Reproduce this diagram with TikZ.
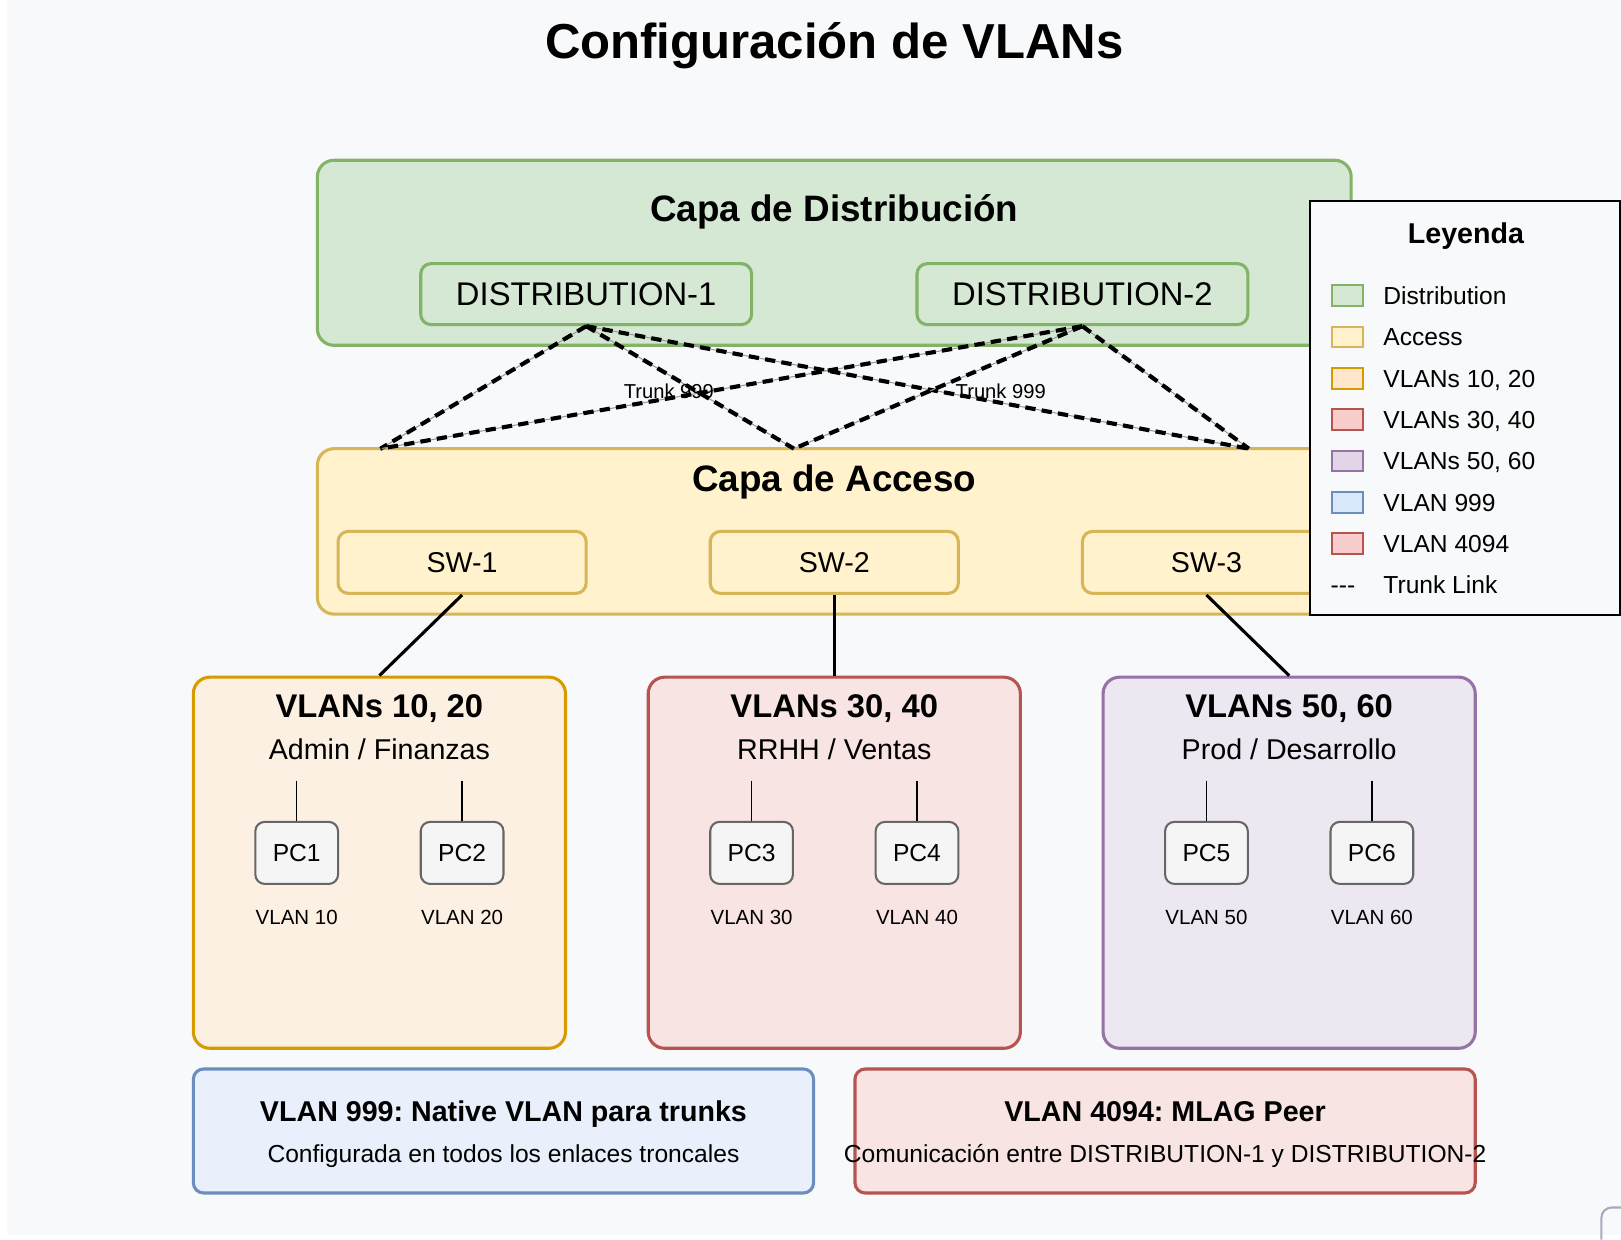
\documentclass[tikz,border=0pt]{standalone}
\usepackage{fontspec}
\setmainfont{Liberation Sans}
\frenchspacing
\newcommand\fsz[1]{\fontsize{#1}{#1}\selectfont}
\definecolor{bgc}{HTML}{F8F9FA}
\definecolor{dgf}{HTML}{D5E8D4}\definecolor{dgs}{HTML}{82B366}
\definecolor{acf}{HTML}{FFF2CC}\definecolor{acs}{HTML}{D6B656}
\definecolor{orf}{HTML}{FFE6CC}\definecolor{ors}{HTML}{D79B00}\definecolor{orl}{HTML}{FCF0E3}
\definecolor{rdf}{HTML}{F8CECC}\definecolor{rds}{HTML}{B85450}\definecolor{rdl}{HTML}{F8E4E3}
\definecolor{puf}{HTML}{E1D5E7}\definecolor{pus}{HTML}{9673A6}\definecolor{pul}{HTML}{ECE7F0}
\definecolor{blf}{HTML}{DAE8FC}\definecolor{bls}{HTML}{6C8EBF}\definecolor{bll}{HTML}{E9F0FB}
\definecolor{pcf}{HTML}{F5F5F5}\definecolor{pcs}{HTML}{666666}
\definecolor{crn}{HTML}{A3ACBD}
\begin{document}
\begin{tikzpicture}[x=1pt,y=-1pt,
  grp/.style={draw, line width=3pt, rounded corners=16pt, inner sep=0pt},
  devbox/.style={draw, line width=3pt, rounded corners=10pt, inner sep=0pt, minimum height=59pt},
  pcbox/.style={draw=pcs, fill=pcf, line width=2pt, rounded corners=9pt, inner sep=0pt,
    minimum width=80pt, minimum height=60pt, font=\fsz{23.8}},
  txt/.style={anchor=base, inner sep=0pt},
  big/.style={txt, font=\fsz{35.6}\bfseries},
  gtitle/.style={txt, font=\fsz{31.7}\bfseries},
  gsub/.style={txt, font=\fsz{27.7}},
  small/.style={txt, font=\fsz{19.8}},
  trunk/.style={line width=4pt, dash pattern=on 10pt off 6pt},
  trunkbase/.style={line width=1pt, draw=gray!80},
  solidlink/.style={line width=3pt},
  pclink/.style={line width=1.5pt},
  swatch/.style={draw, line width=2pt, minimum width=30pt, minimum height=20pt, inner sep=0pt},
  legtxt/.style={anchor=base west, inner sep=0pt, font=\fsz{23.8}}
]
\useasboundingbox (0,0) rectangle (1568,1199);
\fill[white] (0,0) rectangle (1568,1199);
\fill[bgc] (7,0) rectangle (1568,1195);

% title
\node[txt, font=\fsz{47.5}\bfseries] (title) at (807,57) {Configuración de VLANs};

% distribution layer
\node[grp, draw=dgs, fill=dgf, minimum width=1000pt, minimum height=179pt] (dist) at (807,244.5) {};
\node[big] (tdist) at (807,214.7) {Capa de Distribución};
\node[devbox, draw=dgs, fill=dgf, minimum width=320pt, font=\fsz{31.7}] (d1) at (567,284.5) {DISTRIBUTION-1};
\node[devbox, draw=dgs, fill=dgf, minimum width=320pt, font=\fsz{31.7}] (d2) at (1047,284.5) {DISTRIBUTION-2};

% access layer
\node[grp, draw=acs, fill=acf, minimum width=1000pt, minimum height=160pt] (acc) at (807,514) {};
\node[big] (tacc) at (807,475.7) {Capa de Acceso};
\node[devbox, draw=acs, fill=acf, minimum width=240pt, minimum height=60pt, font=\fsz{27.7}] (sw1) at (447,544) {SW-1};
\node[devbox, draw=acs, fill=acf, minimum width=240pt, minimum height=60pt, font=\fsz{27.7}] (sw2) at (807,544) {SW-2};
\node[devbox, draw=acs, fill=acf, minimum width=240pt, minimum height=60pt, font=\fsz{27.7}] (sw3) at (1167,544) {SW-3};

% trunk links
\coordinate (a1) at (368,434);
\coordinate (a2) at (768,434);
\coordinate (a3) at (1208,434);
\foreach \d in {d1,d2}{
  \foreach \a in {a1,a2,a3}{
    \draw[trunkbase] (\d.south) -- (\a);
    \draw[trunk] (\d.south) -- (\a);
  }
}
\node[small, font=\fsz{19.5}] (t1) at (647,385) {Trunk 999};
\node[small, font=\fsz{19.5}] (t2) at (968,385) {Trunk 999};

% VLAN groups
\node[grp, draw=ors, fill=orl, minimum width=360pt, minimum height=359pt] (v1) at (367,834.5) {};
\node[grp, draw=rds, fill=rdl, minimum width=360pt, minimum height=359pt] (v2) at (807,834.5) {};
\node[grp, draw=pus, fill=pul, minimum width=360pt, minimum height=359pt] (v3) at (1247,834.5) {};
\draw[solidlink] (sw1.south) -- (v1.north);
\draw[solidlink] (sw2.south) -- (v2.north);
\draw[solidlink] (sw3.south) -- (v3.north);

\node[gtitle] (g1t) at (367,694.3) {VLANs 10, 20};
\node[gsub] (g1s) at (367,735) {Admin / Finanzas};
\node[gtitle] (g2t) at (807,694.3) {VLANs 30, 40};
\node[gsub] (g2s) at (807,735) {RRHH / Ventas};
\node[gtitle] (g3t) at (1247,694.3) {VLANs 50, 60};
\node[gsub] (g3s) at (1247,735) {Prod / Desarrollo};

\foreach \n/\x/\v in {1/287/10, 2/447/20, 3/727/30, 4/887/40, 5/1167/50, 6/1327/60}{
  \node[pcbox] (pc\n) at (\x,825) {PC\n};
  \coordinate (pt\n) at (\x,755);
  \draw[pclink] (pt\n) -- (pc\n.north);
  \node[small] (vl\n) at (\x,894) {VLAN \v};
}

% bottom notes
\node[grp, rounded corners=10pt, draw=bls, fill=bll, minimum width=600pt, minimum height=120pt] (b1) at (487,1094) {};
\node[txt, font=\fsz{27.7}\bfseries] (b1t) at (487,1085) {VLAN 999: Native VLAN para trunks};
\node[txt, font=\fsz{23.8}] (b1s) at (487,1124.5) {Configurada en todos los enlaces troncales};
\node[grp, rounded corners=10pt, draw=rds, fill=rdl, minimum width=600pt, minimum height=120pt] (b2) at (1127,1094) {};
\node[txt, font=\fsz{27.7}\bfseries] (b2t) at (1127,1085) {VLAN 4094: MLAG Peer};
\node[txt, font=\fsz{23.8}] (b2s) at (1127,1124.5) {Comunicación entre DISTRIBUTION-1 y DISTRIBUTION-2};

% legend
\node[draw=black, fill=bgc, line width=2pt, minimum width=300pt, minimum height=400pt, inner sep=0pt] (leg) at (1417,394.75) {};
\node[txt, font=\fsz{27.7}\bfseries] (legt) at (1418,236) {Leyenda};
\foreach \i/\f/\s/\t in {0/dgf/dgs/Distribution, 1/acf/acs/Access, 2/orf/ors/{VLANs 10, 20}, 3/rdf/rds/{VLANs 30, 40}, 4/puf/pus/{VLANs 50, 60}, 5/blf/bls/VLAN 999, 6/rdf/rds/VLAN 4094}{
  \node[swatch, draw=\s, fill=\f] (sw\i) at (1303,286+40*\i) {};
  \node[legtxt] (lt\i) at (1338,294.5+40*\i) {\t};
}
\node[legtxt] (ldash) at (1287,574) {-{}-{}-};
\node[legtxt] (lt7) at (1338,574.5) {Trunk Link};

% corner fragment of an element at the bottom right
\coordinate (c0) at (1549,1199);
\coordinate (c1) at (1570,1168);
\draw[draw=crn, line width=2pt, rounded corners=10pt] (c0) |- (c1);
\end{tikzpicture}
\end{document}
